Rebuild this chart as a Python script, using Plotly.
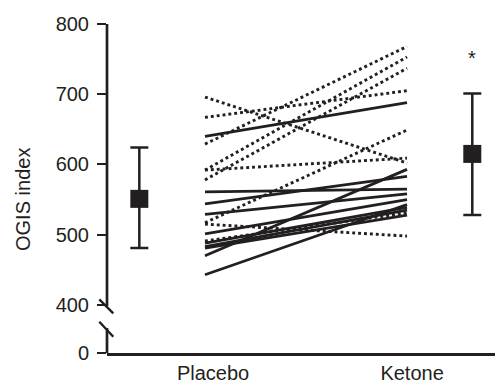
import plotly.graph_objects as go

# ---- data ----
groups = ["Placebo", "Ketone"]

solid_placebo = [640, 561, 544, 529, 501, 488, 483, 481, 470, 443]
solid_ketone = [688, 565, 583, 558, 550, 539, 535, 528, 593, 543]

dotted_placebo = [696, 667, 629, 592, 578, 592, 517, 515, 491]
dotted_ketone = [602, 705, 768, 753, 737, 609, 649, 498, 531]

mean_vals = [551, 615]
err_plus = [73, 86]
err_minus = [70, 87]

y_tick_vals = [400, 500, 600, 700, 800]
y_tick_text = ["400", "500", "600", "700", "800"]
zero_label = "0"

# ---- layout constants ----
INK = "#231f20"
FONT = "Liberation Sans, Arial, Helvetica, sans-serif"
OFF = 8                      # default page (body) margin in the browser
W, H = 503 - OFF, 385 - OFF
ML, MT, MB = 107 - OFF, 24 - OFF, 32
X_RANGE = [0.515, 2.475]
Y_TOP = 800
Y_ZERO_POS = 331.5          # where the broken axis puts "0"
X_LINES = [1.0, 2.0]
X_MEANS = [0.675, 2.323]
X_LABELS = [1.04, 2.025]

plot_h = H - MT - MB
px_per_unit = plot_h / (Y_TOP - Y_ZERO_POS)


def ypix_to_val(p):
    # p: pixel row in the final screenshot
    return Y_TOP - (p - OFF - MT) / px_per_unit


def xpix_to_paper(p):
    return (p - OFF - ML) / (W - ML)


fig = go.Figure()

for a, b in zip(dotted_placebo, dotted_ketone):
    fig.add_trace(go.Scatter(
        x=X_LINES, y=[a, b], mode="lines",
        line=dict(color=INK, width=2.9, dash="2.9px,3px"),
        showlegend=False, hoverinfo="skip"))

for a, b in zip(solid_placebo, solid_ketone):
    fig.add_trace(go.Scatter(
        x=X_LINES, y=[a, b], mode="lines",
        line=dict(color=INK, width=2.8),
        showlegend=False, hoverinfo="skip"))

fig.add_trace(go.Scatter(
    x=X_MEANS, y=mean_vals, mode="markers",
    marker=dict(symbol="square", size=18, color=INK),
    error_y=dict(type="data", symmetric=False, array=err_plus,
                 arrayminus=err_minus, color=INK, thickness=2.5, width=9),
    showlegend=False, hoverinfo="skip", cliponaxis=False))

# significance star
fig.add_annotation(x=X_MEANS[1], y=752, text="*", showarrow=False,
                   font=dict(size=20, color=INK, family=FONT), yanchor="middle")

# y-axis title
fig.add_annotation(xref="paper", yref="paper",
                   x=xpix_to_paper(23), y=1 - (200 - OFF - MT) / plot_h,
                   text="OGIS index", textangle=-90, showarrow=False,
                   font=dict(size=20, color=INK, family=FONT),
                   xanchor="center", yanchor="middle")

# broken y-axis line and break marks
shapes = [
    dict(type="line", xref="paper", yref="y", x0=0, x1=0,
         y0=Y_TOP, y1=ypix_to_val(306), line=dict(color=INK, width=2.7)),
    dict(type="line", xref="paper", yref="y", x0=0, x1=0,
         y0=ypix_to_val(328), y1=Y_ZERO_POS, line=dict(color=INK, width=2.7)),
    dict(type="line", xref="paper", yref="y",
         x0=xpix_to_paper(99.3), x1=xpix_to_paper(113.3),
         y0=ypix_to_val(299.3), y1=ypix_to_val(313.3),
         line=dict(color=INK, width=2.4)),
    dict(type="line", xref="paper", yref="y",
         x0=xpix_to_paper(99.3), x1=xpix_to_paper(113.3),
         y0=ypix_to_val(321.7), y1=ypix_to_val(336.7),
         line=dict(color=INK, width=2.4)),
]
fig.update_layout(shapes=shapes)

fig.update_layout(
    width=W, height=H,
    margin=dict(l=ML, r=0, t=MT, b=MB, autoexpand=False),
    paper_bgcolor="white", plot_bgcolor="white",
    font=dict(family=FONT, size=20, color=INK),
    xaxis=dict(range=X_RANGE, showgrid=False, zeroline=False,
               showline=True, linecolor=INK, linewidth=2.7,
               tickvals=X_LABELS, ticktext=groups, ticks="",
               tickfont=dict(size=20, color=INK, family=FONT),
               ticklabelstandoff=0),
    yaxis=dict(range=[Y_ZERO_POS, Y_TOP], showgrid=False, zeroline=False,
               showline=False,
               tickvals=[Y_ZERO_POS] + y_tick_vals,
               ticktext=[zero_label] + y_tick_text,
               ticks="outside", ticklen=9, tickwidth=2.4, tickcolor=INK,
               tickfont=dict(size=20, color=INK, family=FONT),
               ticklabelstandoff=4),
)

fig.write_html("out.html")
